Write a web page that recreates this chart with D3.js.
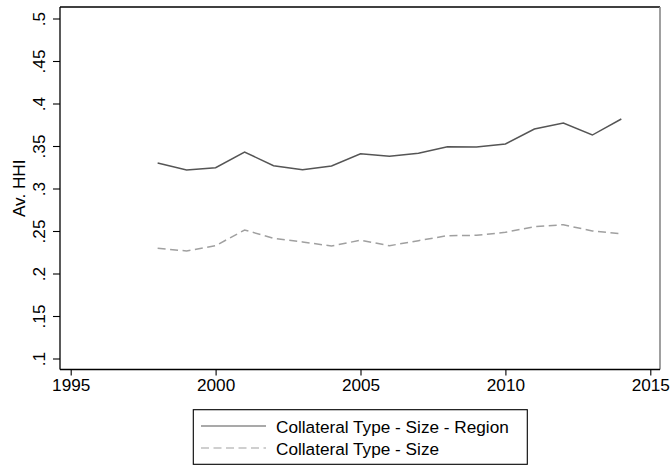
<!DOCTYPE html>
<html>
<head>
<meta charset="utf-8">
<script src="https://cdn.jsdelivr.net/npm/d3@7"></script>
<style>
  html, body { margin: 0; padding: 0; background: #fff; }
  svg { display: block; font-family: "Liberation Sans", Arial, sans-serif; }
</style>
</head>
<body>
<svg id="chart" width="671" height="466"></svg>
<script>
// Average HHI by year for two market definitions
const years = [1998, 1999, 2000, 2001, 2002, 2003, 2004, 2005, 2006, 2007, 2008, 2009, 2010, 2011, 2012, 2013, 2014];
const typeSizeRegion = [0.330, 0.3218, 0.3245, 0.3429, 0.3268, 0.3221, 0.3265, 0.3409, 0.3379, 0.3414, 0.3492, 0.3488, 0.3524, 0.370, 0.3771, 0.3629, 0.3818];
const typeSize = [0.2296, 0.2265, 0.2327, 0.2512, 0.2414, 0.2371, 0.2324, 0.2391, 0.2327, 0.2386, 0.2445, 0.2449, 0.2485, 0.2551, 0.2574, 0.250, 0.2468];

const xTicks = [1995, 2000, 2005, 2010, 2015];
const yTicks = [0.1, 0.15, 0.2, 0.25, 0.3, 0.35, 0.4, 0.45, 0.5];
const yTickLabels = [".1", ".15", ".2", ".25", ".3", ".35", ".4", ".45", ".5"];
const legendLabels = ["Collateral Type - Size - Region", "Collateral Type - Size"];

const svg = d3.select("#chart");
const frame = { left: 60, right: 660, top: 7, bottom: 369.5 };

// scales: tick 1995 sits a little inside the frame, as does 2015
const x = d3.scaleLinear().domain([1995, 2015]).range([70.7, 650.3]);
const y = d3.scaleLinear().domain([0.1, 0.5]).range([358.5, 18.5]);

const fontSize = 17.2;

// plot frame: top and right edges
svg.append("line").attr("x1", frame.left).attr("x2", frame.right)
  .attr("y1", frame.top).attr("y2", frame.top)
  .attr("stroke", "#000").attr("stroke-width", 1.3);
svg.append("line").attr("x1", frame.right).attr("x2", frame.right)
  .attr("y1", frame.top).attr("y2", frame.bottom)
  .attr("stroke", "#888").attr("stroke-width", 1.6);

// left axis
const yAxis = d3.axisLeft(y).tickValues(yTicks).tickSize(7)
  .tickFormat((d, i) => yTickLabels[i]);
const gy = svg.append("g").attr("transform", `translate(${frame.left},0)`).call(yAxis);
gy.select(".domain").remove();
gy.selectAll(".tick line").attr("stroke", "#000").attr("stroke-width", 1.1);
gy.selectAll(".tick text")
  .attr("x", null).attr("dy", null)
  .attr("transform", "translate(-15,0) rotate(-90)")
  .attr("text-anchor", "middle")
  .attr("font-size", fontSize)
  .attr("font-family", "Liberation Sans, Arial, sans-serif")
  .attr("fill", "#000");
svg.append("line").attr("x1", frame.left).attr("x2", frame.left)
  .attr("y1", frame.top).attr("y2", frame.bottom)
  .attr("stroke", "#000").attr("stroke-width", 1.3);

// bottom axis
const xAxis = d3.axisBottom(x).tickValues(xTicks).tickSize(6).tickFormat(d3.format("d"));
const gx = svg.append("g").attr("transform", `translate(0,${frame.bottom})`).call(xAxis);
gx.select(".domain").remove();
gx.selectAll(".tick line").attr("stroke", "#000").attr("stroke-width", 1.1);
gx.selectAll(".tick text")
  .attr("y", 21).attr("dy", null)
  .attr("font-size", fontSize)
  .attr("font-family", "Liberation Sans, Arial, sans-serif")
  .attr("fill", "#000");
svg.append("line").attr("x1", frame.left).attr("x2", frame.right)
  .attr("y1", frame.bottom).attr("y2", frame.bottom)
  .attr("stroke", "#000").attr("stroke-width", 1.3);

// y axis title
svg.append("text")
  .attr("transform", `translate(25,${(frame.top + frame.bottom) / 2}) rotate(-90)`)
  .attr("text-anchor", "middle")
  .attr("font-size", fontSize)
  .attr("fill", "#000")
  .text("Av. HHI");

// series lines
const line = d3.line().x((d, i) => x(years[i])).y(d => y(d));
const series = [
  { values: typeSizeRegion, color: "#555555", dash: null, width: 1.5 },
  { values: typeSize, color: "#a0a0a0", dash: "8,4.5", width: 1.5 }
];
series.forEach(s => {
  svg.append("path")
    .datum(s.values)
    .attr("fill", "none")
    .attr("stroke", s.color)
    .attr("stroke-width", s.width)
    .attr("stroke-dasharray", s.dash)
    .attr("d", line);
});

// legend
const lg = svg.append("g");
lg.append("rect")
  .attr("x", 193.3).attr("y", 409.7).attr("width", 334).attr("height", 54.6)
  .attr("fill", "#fff").attr("stroke", "#000").attr("stroke-width", 1.1);
series.forEach((s, i) => {
  const ly = 426 + i * 22;
  lg.append("line")
    .attr("x1", 201).attr("x2", 266).attr("y1", ly).attr("y2", ly)
    .attr("stroke", s.color).attr("stroke-width", 1.2)
    .attr("stroke-dasharray", s.dash);
  lg.append("text")
    .attr("x", 276).attr("y", ly + 7.3)
    .attr("font-size", fontSize)
    .attr("fill", "#000")
    .text(legendLabels[i]);
});
</script>
</body>
</html>
